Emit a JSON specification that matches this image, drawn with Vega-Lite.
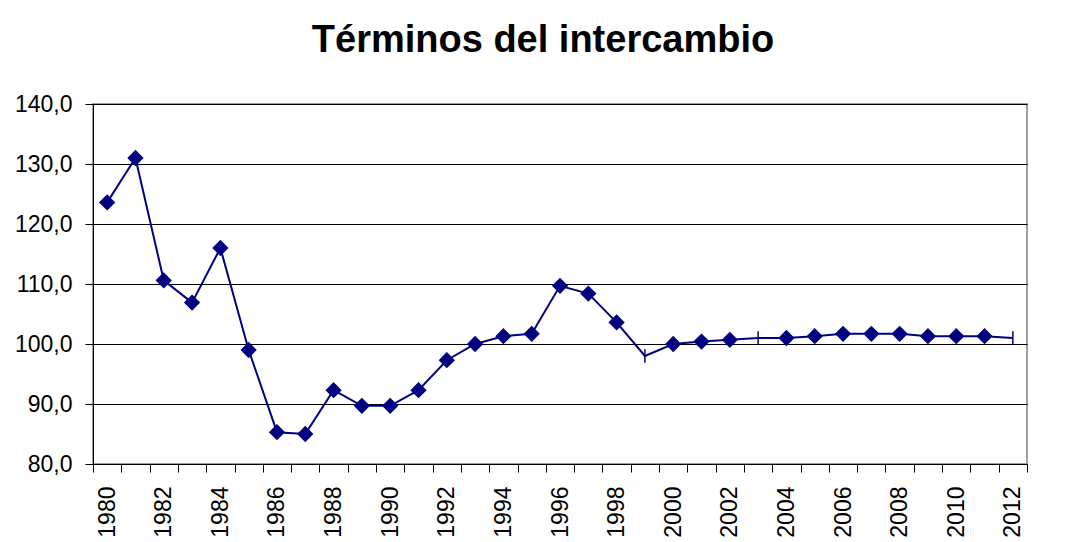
{
  "$schema": "https://vega.github.io/schema/vega-lite/v6.json",
  "autosize": "none",
  "width": 934,
  "height": 360,
  "padding": {"left": 93, "top": 104, "right": 43, "bottom": 78},
  "background": "white",
  "title": {
    "text": "Términos del intercambio",
    "font": "Liberation Sans",
    "fontSize": 38,
    "fontWeight": "bold",
    "color": "black",
    "anchor": "middle",
    "dx": -17,
    "offset": 33
  },
  "data": {
    "values": [
      {"anio": "1980", "valor": 123.6, "tipo": "a"},
      {"anio": "1981", "valor": 131.0, "tipo": "a"},
      {"anio": "1982", "valor": 110.6, "tipo": "a"},
      {"anio": "1983", "valor": 106.9, "tipo": "a"},
      {"anio": "1984", "valor": 116.0, "tipo": "a"},
      {"anio": "1985", "valor": 99.0, "tipo": "a"},
      {"anio": "1986", "valor": 85.3, "tipo": "a"},
      {"anio": "1987", "valor": 85.0, "tipo": "a"},
      {"anio": "1988", "valor": 92.3, "tipo": "a"},
      {"anio": "1989", "valor": 89.7, "tipo": "a"},
      {"anio": "1990", "valor": 89.7, "tipo": "a"},
      {"anio": "1991", "valor": 92.3, "tipo": "a"},
      {"anio": "1992", "valor": 97.3, "tipo": "a"},
      {"anio": "1993", "valor": 100.0, "tipo": "a"},
      {"anio": "1994", "valor": 101.3, "tipo": "a"},
      {"anio": "1995", "valor": 101.7, "tipo": "a"},
      {"anio": "1996", "valor": 109.7, "tipo": "a"},
      {"anio": "1997", "valor": 108.4, "tipo": "a"},
      {"anio": "1998", "valor": 103.6, "tipo": "a"},
      {"anio": "1999", "valor": 98.0, "tipo": "b"},
      {"anio": "2000", "valor": 100.0, "tipo": "a"},
      {"anio": "2001", "valor": 100.4, "tipo": "a"},
      {"anio": "2002", "valor": 100.7, "tipo": "a"},
      {"anio": "2003", "valor": 101.0, "tipo": "b"},
      {"anio": "2004", "valor": 101.0, "tipo": "a"},
      {"anio": "2005", "valor": 101.3, "tipo": "a"},
      {"anio": "2006", "valor": 101.7, "tipo": "a"},
      {"anio": "2007", "valor": 101.7, "tipo": "a"},
      {"anio": "2008", "valor": 101.7, "tipo": "a"},
      {"anio": "2009", "valor": 101.3, "tipo": "a"},
      {"anio": "2010", "valor": 101.3, "tipo": "a"},
      {"anio": "2011", "valor": 101.3, "tipo": "a"},
      {"anio": "2012", "valor": 101.0, "tipo": "b"}
    ]
  },
  "encoding": {
    "x": {
      "field": "anio",
      "type": "ordinal",
      "sort": null,
      "scale": {"type": "band", "paddingInner": 0, "paddingOuter": 0},
      "axis": {
        "title": null,
        "labelAngle": -90,
        "labelFont": "Liberation Sans",
        "labelFontSize": 23,
        "labelColor": "black",
        "labelPadding": 14,
        "labelOverlap": false,
        "labelExpr": "parseInt(datum.value) % 2 == 0 ? datum.value : ''",
        "tickBand": "extent",
        "tickSize": 8,
        "tickColor": "black",
        "domainColor": "black",
        "grid": false
      }
    },
    "y": {
      "field": "valor",
      "type": "quantitative",
      "scale": {"domain": [80, 140], "nice": false, "zero": false},
      "axis": {
        "title": null,
        "values": [80, 90, 100, 110, 120, 130, 140],
        "labelExpr": "replace(format(datum.value, '.1f'), '.', ',')",
        "labelFont": "Liberation Sans",
        "labelFontSize": 23,
        "labelColor": "black",
        "labelPadding": 13,
        "tickSize": 8,
        "tickColor": "black",
        "domainColor": "black",
        "grid": true,
        "gridColor": "black",
        "gridOpacity": 1,
        "gridWidth": 1
      }
    }
  },
  "layer": [
    {
      "mark": {"type": "line", "color": "#000080", "strokeWidth": 2}
    },
    {
      "mark": {"type": "point", "filled": true, "opacity": 1, "color": "#000080", "stroke": "#000080", "strokeWidth": 1.5, "size": 200},
      "encoding": {
        "shape": {
          "field": "tipo",
          "type": "nominal",
          "scale": {"domain": ["a", "b"], "range": ["diamond", "M0,-0.95V0.95"]},
          "legend": null
        }
      }
    }
  ],
  "config": {
    "view": {"stroke": "#808080", "strokeWidth": 1.5}
  }
}
